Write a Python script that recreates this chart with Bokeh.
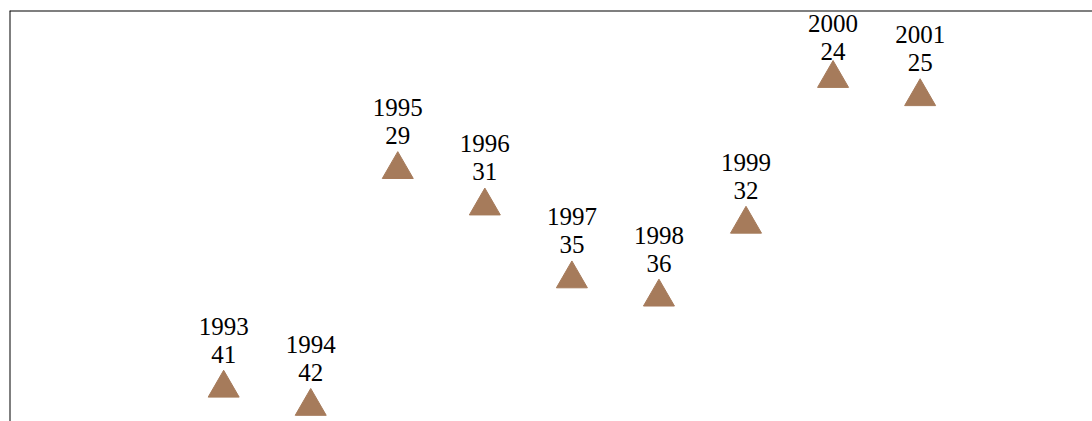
from bokeh.plotting import figure
from bokeh.models import ColumnDataSource, Range1d, Span
from bokeh.core.properties import value
from bokeh.embed import file_html
from bokeh.resources import INLINE

years = [1993, 1994, 1995, 1996, 1997, 1998, 1999, 2000, 2001]
values = [41, 42, 29, 31, 35, 36, 32, 24, 25]

# layout
W, H = 1092, 421
BORDER_L, BORDER_T = 9, 10
X0, X1 = 1990.54, 2002.98
Y_TOP, Y_BOT = 20.27, 42.83
FRAME_H = H - BORDER_T
VAL_OFF, YEAR_OFF, MIN_YEAR_BASE = -34, -62, 13
FONT = value("Liberation Serif")

year_off, val_off = [], []
for v in values:
    py = (v - Y_TOP) / (Y_BOT - Y_TOP) * FRAME_H
    shift = max(0.0, MIN_YEAR_BASE - (py + YEAR_OFF))
    year_off.append(YEAR_OFF + shift)
    val_off.append(VAL_OFF + shift)

src = ColumnDataSource(dict(
    x=years, y=values,
    year_txt=[str(y) for y in years],
    val_txt=[str(v) for v in values],
    year_off=year_off, val_off=val_off,
))

p = figure(width=W, height=H, x_range=Range1d(X0, X1), y_range=Range1d(Y_BOT, Y_TOP),
           output_backend="svg", toolbar_location=None,
           x_axis_location=None, y_axis_location=None,
           min_border_left=BORDER_L, min_border_top=BORDER_T,
           min_border_right=0, min_border_bottom=0)
p.grid.visible = False
p.outline_line_color = None
p.background_fill_color = "white"
p.border_fill_color = "white"

p.add_layout(Span(location=Y_TOP, dimension="width", line_color="#000000", line_width=2))
p.add_layout(Span(location=X0, dimension="height", line_color="#000000", line_width=2))

p.scatter("x", "y", source=src, marker="triangle", size=31,
          fill_color="#A67B5B", line_color="#A67B5B", line_width=1)

p.text("x", "y", text="year_txt", source=src, y_offset="year_off",
       text_align="center", text_baseline="alphabetic",
       text_font=FONT, text_font_size="25px", text_color="black")
p.text("x", "y", text="val_txt", source=src, y_offset="val_off",
       text_align="center", text_baseline="alphabetic",
       text_font=FONT, text_font_size="25px", text_color="black")

open("out.html", "w").write(file_html(p, INLINE))
